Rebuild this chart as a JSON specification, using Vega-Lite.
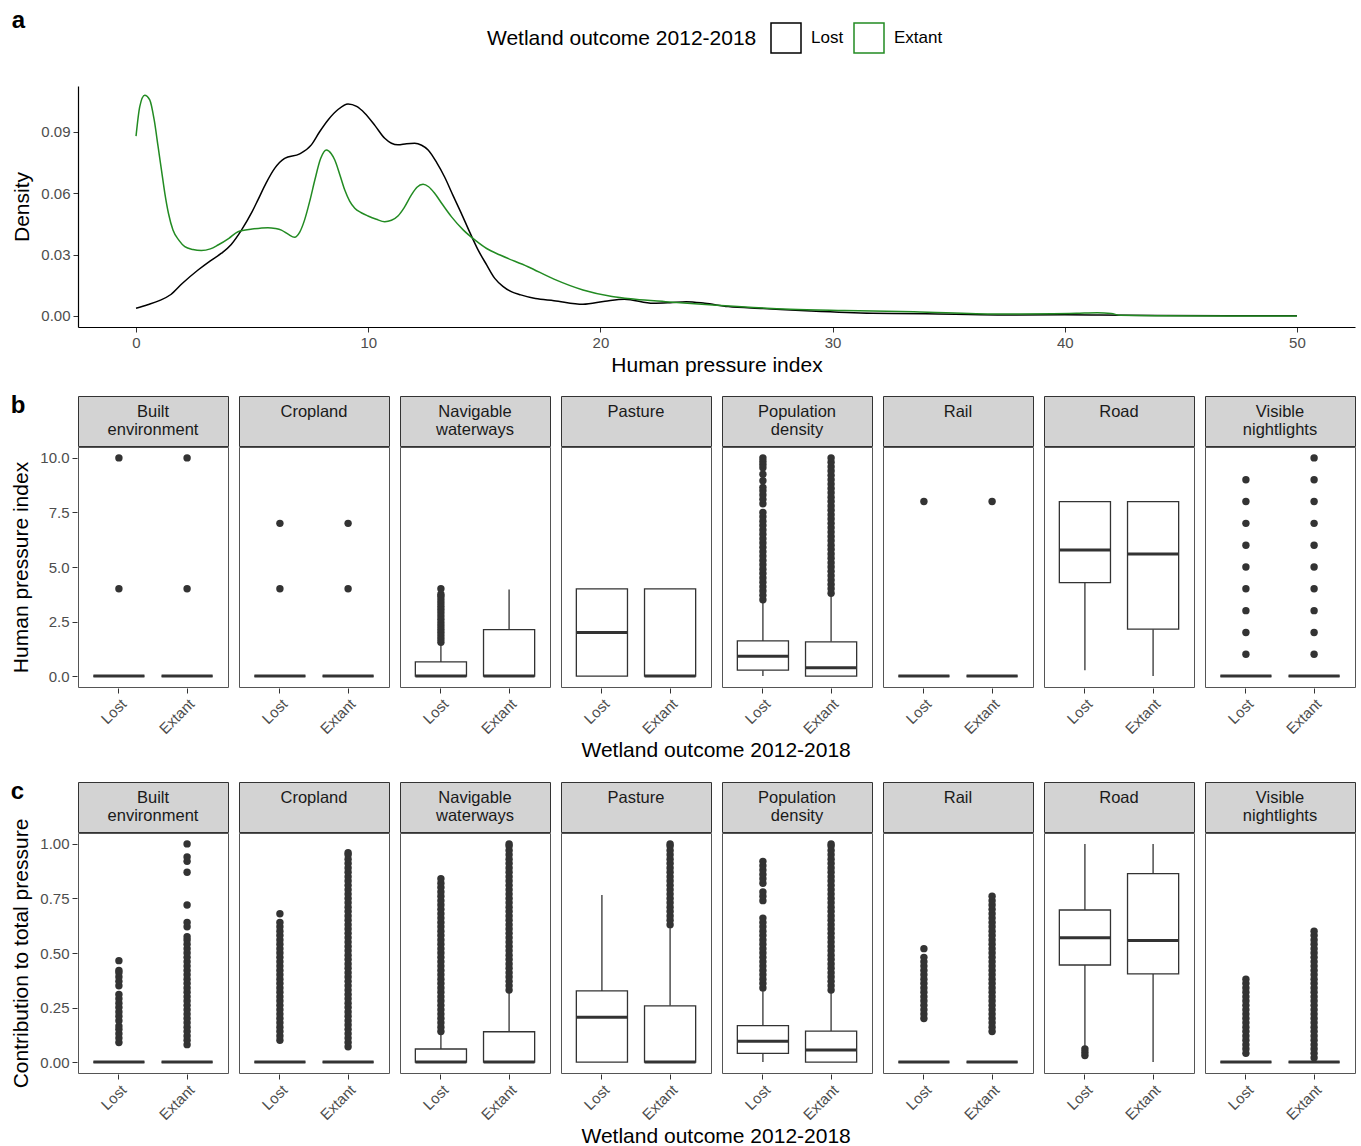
{
"$schema": "https://vega.github.io/schema/vega-lite/v6.json",
"background": "white",
"padding": {"left": 10, "top": 9, "right": 4, "bottom": 0},
"spacing": 18,
"config": {
 "font": "Liberation Sans",
 "view": {"stroke": "#555", "strokeWidth": 1},
 "axis": {"grid": false, "labelFontSize": 15, "labelColor": "#4D4D4D", "titleFontSize": 21, "titleFontWeight": "normal", "titleColor": "black", "tickColor": "#333", "tickSize": 5, "labelPadding": 3, "titlePadding": 8}
},
"datasets": {
 "dens": [
  {"o":"Lost","x":0,"d":0.0038},{"o":"Lost","x":0.5,"d":0.0055},{"o":"Lost","x":1.0,"d":0.0075},{"o":"Lost","x":1.5,"d":0.0105},{"o":"Lost","x":2.0,"d":0.016},{"o":"Lost","x":2.67,"d":0.0225},{"o":"Lost","x":3.2,"d":0.027},{"o":"Lost","x":3.68,"d":0.0307},{"o":"Lost","x":4.1,"d":0.035},{"o":"Lost","x":4.54,"d":0.042},{"o":"Lost","x":5.0,"d":0.051},{"o":"Lost","x":5.25,"d":0.0568},{"o":"Lost","x":5.6,"d":0.065},{"o":"Lost","x":5.97,"d":0.0722},{"o":"Lost","x":6.4,"d":0.0771},{"o":"Lost","x":7.05,"d":0.0793},{"o":"Lost","x":7.55,"d":0.0837},{"o":"Lost","x":7.9,"d":0.09},{"o":"Lost","x":8.27,"d":0.0959},{"o":"Lost","x":8.7,"d":0.101},{"o":"Lost","x":9.13,"d":0.1037},{"o":"Lost","x":9.5,"d":0.1025},{"o":"Lost","x":9.85,"d":0.0992},{"o":"Lost","x":10.3,"d":0.093},{"o":"Lost","x":10.71,"d":0.0869},{"o":"Lost","x":11.0,"d":0.0845},{"o":"Lost","x":11.28,"d":0.0837},{"o":"Lost","x":11.65,"d":0.0843},{"o":"Lost","x":12.0,"d":0.0845},{"o":"Lost","x":12.3,"d":0.0835},{"o":"Lost","x":12.58,"d":0.0812},{"o":"Lost","x":12.95,"d":0.075},{"o":"Lost","x":13.29,"d":0.068},{"o":"Lost","x":13.65,"d":0.059},{"o":"Lost","x":14.01,"d":0.0502},{"o":"Lost","x":14.37,"d":0.041},{"o":"Lost","x":14.73,"d":0.0323},{"o":"Lost","x":15.1,"d":0.025},{"o":"Lost","x":15.45,"d":0.0184},{"o":"Lost","x":15.8,"d":0.0145},{"o":"Lost","x":16.16,"d":0.0119},{"o":"Lost","x":16.57,"d":0.0103},{"o":"Lost","x":17.2,"d":0.0085},{"o":"Lost","x":18.0,"d":0.0075},{"o":"Lost","x":19.25,"d":0.0057},{"o":"Lost","x":20.2,"d":0.0072},{"o":"Lost","x":21.03,"d":0.0082},{"o":"Lost","x":22.28,"d":0.0062},{"o":"Lost","x":23.0,"d":0.0065},{"o":"Lost","x":23.7,"d":0.007},{"o":"Lost","x":24.5,"d":0.0062},{"o":"Lost","x":25.5,"d":0.0046},{"o":"Lost","x":27.0,"d":0.0037},{"o":"Lost","x":29.06,"d":0.0024},{"o":"Lost","x":31.7,"d":0.0013},{"o":"Lost","x":34.0,"d":0.0011},{"o":"Lost","x":37.1,"d":0.0005},{"o":"Lost","x":40.0,"d":0.0006},{"o":"Lost","x":41.5,"d":0.0005},{"o":"Lost","x":44.0,"d":0.0002},{"o":"Lost","x":47.0,"d":0.0001},{"o":"Lost","x":50.0,"d":0.0001},
  {"o":"Extant","x":0,"d":0.088},{"o":"Extant","x":0.16,"d":0.1024},{"o":"Extant","x":0.37,"d":0.108},{"o":"Extant","x":0.59,"d":0.1057},{"o":"Extant","x":0.78,"d":0.096},{"o":"Extant","x":0.95,"d":0.0828},{"o":"Extant","x":1.1,"d":0.071},{"o":"Extant","x":1.24,"d":0.06},{"o":"Extant","x":1.4,"d":0.05},{"o":"Extant","x":1.59,"d":0.042},{"o":"Extant","x":1.85,"d":0.037},{"o":"Extant","x":2.1,"d":0.0339},{"o":"Extant","x":2.45,"d":0.0325},{"o":"Extant","x":2.81,"d":0.032},{"o":"Extant","x":3.2,"d":0.0328},{"o":"Extant","x":3.53,"d":0.0347},{"o":"Extant","x":4.0,"d":0.038},{"o":"Extant","x":4.39,"d":0.0412},{"o":"Extant","x":5.0,"d":0.0425},{"o":"Extant","x":5.68,"d":0.0432},{"o":"Extant","x":6.0,"d":0.0428},{"o":"Extant","x":6.26,"d":0.042},{"o":"Extant","x":6.55,"d":0.04},{"o":"Extant","x":6.83,"d":0.0385},{"o":"Extant","x":7.05,"d":0.041},{"o":"Extant","x":7.26,"d":0.047},{"o":"Extant","x":7.5,"d":0.057},{"o":"Extant","x":7.7,"d":0.0665},{"o":"Extant","x":7.95,"d":0.077},{"o":"Extant","x":8.2,"d":0.0812},{"o":"Extant","x":8.4,"d":0.0795},{"o":"Extant","x":8.56,"d":0.0763},{"o":"Extant","x":8.78,"d":0.069},{"o":"Extant","x":8.99,"d":0.0616},{"o":"Extant","x":9.2,"d":0.0562},{"o":"Extant","x":9.42,"d":0.0527},{"o":"Extant","x":9.7,"d":0.0505},{"o":"Extant","x":9.99,"d":0.0489},{"o":"Extant","x":10.35,"d":0.0473},{"o":"Extant","x":10.71,"d":0.0461},{"o":"Extant","x":11.0,"d":0.0468},{"o":"Extant","x":11.28,"d":0.0489},{"o":"Extant","x":11.55,"d":0.053},{"o":"Extant","x":11.86,"d":0.0592},{"o":"Extant","x":12.1,"d":0.063},{"o":"Extant","x":12.36,"d":0.0644},{"o":"Extant","x":12.6,"d":0.0632},{"o":"Extant","x":12.86,"d":0.06},{"o":"Extant","x":13.2,"d":0.0545},{"o":"Extant","x":13.58,"d":0.0486},{"o":"Extant","x":14.1,"d":0.042},{"o":"Extant","x":14.59,"d":0.0372},{"o":"Extant","x":15.1,"d":0.033},{"o":"Extant","x":15.68,"d":0.0298},{"o":"Extant","x":16.88,"d":0.0241},{"o":"Extant","x":18.0,"d":0.018},{"o":"Extant","x":19.25,"d":0.0127},{"o":"Extant","x":20.5,"d":0.0095},{"o":"Extant","x":21.5,"d":0.0082},{"o":"Extant","x":22.81,"d":0.007},{"o":"Extant","x":25.0,"d":0.0052},{"o":"Extant","x":28.17,"d":0.0033},{"o":"Extant","x":30.5,"d":0.0027},{"o":"Extant","x":33.5,"d":0.0021},{"o":"Extant","x":37.1,"d":0.001},{"o":"Extant","x":39.5,"d":0.0011},{"o":"Extant","x":40.5,"d":0.0013},{"o":"Extant","x":41.4,"d":0.0016},{"o":"Extant","x":42.0,"d":0.0012},{"o":"Extant","x":42.4,"d":0.0003},{"o":"Extant","x":44.0,"d":0.0001},{"o":"Extant","x":47.0,"d":0.0},{"o":"Extant","x":50.0,"d":0.0}
 ],
 "strips": [
  {"p":"BE","label":"Built\nenvironment"},{"p":"CR","label":"Cropland\n"},{"p":"NW","label":"Navigable\nwaterways"},{"p":"PA","label":"Pasture\n"},{"p":"PD","label":"Population\ndensity"},{"p":"RA","label":"Rail\n"},{"p":"RO","label":"Road\n"},{"p":"VN","label":"Visible\nnightlights"}
 ],
 "b": [
  {"p":"BE","o":"Lost","lo":0,"q1":0,"md":0,"q3":0,"hi":0},{"p":"BE","o":"Extant","lo":0,"q1":0,"md":0,"q3":0,"hi":0},
  {"p":"CR","o":"Lost","lo":0,"q1":0,"md":0,"q3":0,"hi":0},{"p":"CR","o":"Extant","lo":0,"q1":0,"md":0,"q3":0,"hi":0},
  {"p":"NW","o":"Lost","lo":0,"q1":0,"md":0,"q3":0.65,"hi":1.5},{"p":"NW","o":"Extant","lo":0,"q1":0,"md":0,"q3":2.13,"hi":3.97},
  {"p":"PA","o":"Lost","lo":0,"q1":0,"md":2,"q3":4,"hi":4},{"p":"PA","o":"Extant","lo":0,"q1":0,"md":0,"q3":4,"hi":4},
  {"p":"PD","o":"Lost","lo":0,"q1":0.27,"md":0.91,"q3":1.61,"hi":3.44},{"p":"PD","o":"Extant","lo":0,"q1":0,"md":0.38,"q3":1.57,"hi":3.74},
  {"p":"RA","o":"Lost","lo":0,"q1":0,"md":0,"q3":0,"hi":0},{"p":"RA","o":"Extant","lo":0,"q1":0,"md":0,"q3":0,"hi":0},
  {"p":"RO","o":"Lost","lo":0.27,"q1":4.28,"md":5.78,"q3":8,"hi":8},{"p":"RO","o":"Extant","lo":0,"q1":2.15,"md":5.6,"q3":8,"hi":8},
  {"p":"VN","o":"Lost","lo":0,"q1":0,"md":0,"q3":0,"hi":0},{"p":"VN","o":"Extant","lo":0,"q1":0,"md":0,"q3":0,"hi":0},
  {"p":"BE","o":"Lost","v":4},{"p":"BE","o":"Lost","v":10},{"p":"BE","o":"Extant","v":4},{"p":"BE","o":"Extant","v":10},
  {"p":"CR","o":"Lost","v":4},{"p":"CR","o":"Lost","v":7},{"p":"CR","o":"Extant","v":4},{"p":"CR","o":"Extant","v":7},
  {"p":"NW","o":"Lost","v":1.55},{"p":"NW","o":"Lost","v":1.7},{"p":"NW","o":"Lost","v":1.85},{"p":"NW","o":"Lost","v":2},{"p":"NW","o":"Lost","v":2.15},{"p":"NW","o":"Lost","v":2.3},{"p":"NW","o":"Lost","v":2.45},{"p":"NW","o":"Lost","v":2.6},{"p":"NW","o":"Lost","v":2.75},{"p":"NW","o":"Lost","v":2.9},{"p":"NW","o":"Lost","v":3.05},{"p":"NW","o":"Lost","v":3.2},{"p":"NW","o":"Lost","v":3.35},{"p":"NW","o":"Lost","v":3.5},{"p":"NW","o":"Lost","v":3.65},{"p":"NW","o":"Lost","v":3.75},{"p":"NW","o":"Lost","v":4},
  {"p":"PD","o":"Lost","v":3.5},{"p":"PD","o":"Lost","v":3.7},{"p":"PD","o":"Lost","v":3.9},{"p":"PD","o":"Lost","v":4.1},{"p":"PD","o":"Lost","v":4.3},{"p":"PD","o":"Lost","v":4.5},{"p":"PD","o":"Lost","v":4.7},{"p":"PD","o":"Lost","v":4.9},{"p":"PD","o":"Lost","v":5.1},{"p":"PD","o":"Lost","v":5.3},{"p":"PD","o":"Lost","v":5.5},{"p":"PD","o":"Lost","v":5.7},{"p":"PD","o":"Lost","v":5.9},{"p":"PD","o":"Lost","v":6.1},{"p":"PD","o":"Lost","v":6.3},{"p":"PD","o":"Lost","v":6.5},{"p":"PD","o":"Lost","v":6.7},{"p":"PD","o":"Lost","v":6.9},{"p":"PD","o":"Lost","v":7.1},{"p":"PD","o":"Lost","v":7.3},{"p":"PD","o":"Lost","v":7.5},{"p":"PD","o":"Lost","v":7.9},{"p":"PD","o":"Lost","v":8.1},{"p":"PD","o":"Lost","v":8.3},{"p":"PD","o":"Lost","v":8.5},{"p":"PD","o":"Lost","v":8.65},{"p":"PD","o":"Lost","v":8.95},{"p":"PD","o":"Lost","v":9.25},{"p":"PD","o":"Lost","v":9.55},{"p":"PD","o":"Lost","v":9.7},{"p":"PD","o":"Lost","v":9.85},{"p":"PD","o":"Lost","v":10},
  {"p":"PD","o":"Extant","v":3.8},{"p":"PD","o":"Extant","v":4},{"p":"PD","o":"Extant","v":4.2},{"p":"PD","o":"Extant","v":4.4},{"p":"PD","o":"Extant","v":4.6},{"p":"PD","o":"Extant","v":4.8},{"p":"PD","o":"Extant","v":5},{"p":"PD","o":"Extant","v":5.2},{"p":"PD","o":"Extant","v":5.4},{"p":"PD","o":"Extant","v":5.6},{"p":"PD","o":"Extant","v":5.8},{"p":"PD","o":"Extant","v":6},{"p":"PD","o":"Extant","v":6.2},{"p":"PD","o":"Extant","v":6.4},{"p":"PD","o":"Extant","v":6.6},{"p":"PD","o":"Extant","v":6.8},{"p":"PD","o":"Extant","v":7},{"p":"PD","o":"Extant","v":7.2},{"p":"PD","o":"Extant","v":7.4},{"p":"PD","o":"Extant","v":7.6},{"p":"PD","o":"Extant","v":7.8},{"p":"PD","o":"Extant","v":8},{"p":"PD","o":"Extant","v":8.2},{"p":"PD","o":"Extant","v":8.4},{"p":"PD","o":"Extant","v":8.6},{"p":"PD","o":"Extant","v":8.8},{"p":"PD","o":"Extant","v":9},{"p":"PD","o":"Extant","v":9.2},{"p":"PD","o":"Extant","v":9.4},{"p":"PD","o":"Extant","v":9.6},{"p":"PD","o":"Extant","v":9.8},{"p":"PD","o":"Extant","v":10},
  {"p":"RA","o":"Lost","v":8},{"p":"RA","o":"Extant","v":8},
  {"p":"VN","o":"Lost","v":1},{"p":"VN","o":"Lost","v":2},{"p":"VN","o":"Lost","v":3},{"p":"VN","o":"Lost","v":4},{"p":"VN","o":"Lost","v":5},{"p":"VN","o":"Lost","v":6},{"p":"VN","o":"Lost","v":7},{"p":"VN","o":"Lost","v":8},{"p":"VN","o":"Lost","v":9},
  {"p":"VN","o":"Extant","v":1},{"p":"VN","o":"Extant","v":2},{"p":"VN","o":"Extant","v":3},{"p":"VN","o":"Extant","v":4},{"p":"VN","o":"Extant","v":5},{"p":"VN","o":"Extant","v":6},{"p":"VN","o":"Extant","v":7},{"p":"VN","o":"Extant","v":8},{"p":"VN","o":"Extant","v":9},{"p":"VN","o":"Extant","v":10}
 ],
 "c": [
  {"p":"BE","o":"Lost","lo":0,"q1":0,"md":0,"q3":0,"hi":0},{"p":"BE","o":"Extant","lo":0,"q1":0,"md":0,"q3":0,"hi":0},
  {"p":"CR","o":"Lost","lo":0,"q1":0,"md":0,"q3":0,"hi":0},{"p":"CR","o":"Extant","lo":0,"q1":0,"md":0,"q3":0,"hi":0},
  {"p":"NW","o":"Lost","lo":0,"q1":0,"md":0,"q3":0.06,"hi":0.13},{"p":"NW","o":"Extant","lo":0,"q1":0,"md":0,"q3":0.139,"hi":0.326},
  {"p":"PA","o":"Lost","lo":0,"q1":0,"md":0.205,"q3":0.326,"hi":0.766},{"p":"PA","o":"Extant","lo":0,"q1":0,"md":0,"q3":0.258,"hi":0.62},
  {"p":"PD","o":"Lost","lo":0,"q1":0.04,"md":0.096,"q3":0.167,"hi":0.33},{"p":"PD","o":"Extant","lo":0,"q1":0,"md":0.055,"q3":0.142,"hi":0.32},
  {"p":"RA","o":"Lost","lo":0,"q1":0,"md":0,"q3":0,"hi":0},{"p":"RA","o":"Extant","lo":0,"q1":0,"md":0,"q3":0,"hi":0},
  {"p":"RO","o":"Lost","lo":0.07,"q1":0.445,"md":0.57,"q3":0.697,"hi":1},{"p":"RO","o":"Extant","lo":0,"q1":0.404,"md":0.557,"q3":0.864,"hi":1},
  {"p":"VN","o":"Lost","lo":0,"q1":0,"md":0,"q3":0,"hi":0},{"p":"VN","o":"Extant","lo":0,"q1":0,"md":0,"q3":0,"hi":0},
  {"p":"BE","o":"Lost","v":0.09},{"p":"BE","o":"Lost","v":0.11},{"p":"BE","o":"Lost","v":0.13},{"p":"BE","o":"Lost","v":0.15},{"p":"BE","o":"Lost","v":0.165},{"p":"BE","o":"Lost","v":0.19},{"p":"BE","o":"Lost","v":0.21},{"p":"BE","o":"Lost","v":0.23},{"p":"BE","o":"Lost","v":0.25},{"p":"BE","o":"Lost","v":0.27},{"p":"BE","o":"Lost","v":0.29},{"p":"BE","o":"Lost","v":0.31},{"p":"BE","o":"Lost","v":0.35},{"p":"BE","o":"Lost","v":0.37},{"p":"BE","o":"Lost","v":0.39},{"p":"BE","o":"Lost","v":0.41},{"p":"BE","o":"Lost","v":0.42},{"p":"BE","o":"Lost","v":0.465},
  {"p":"BE","o":"Extant","v":0.08},{"p":"BE","o":"Extant","v":0.1},{"p":"BE","o":"Extant","v":0.12},{"p":"BE","o":"Extant","v":0.14},{"p":"BE","o":"Extant","v":0.16},{"p":"BE","o":"Extant","v":0.18},{"p":"BE","o":"Extant","v":0.2},{"p":"BE","o":"Extant","v":0.22},{"p":"BE","o":"Extant","v":0.24},{"p":"BE","o":"Extant","v":0.26},{"p":"BE","o":"Extant","v":0.28},{"p":"BE","o":"Extant","v":0.3},{"p":"BE","o":"Extant","v":0.32},{"p":"BE","o":"Extant","v":0.34},{"p":"BE","o":"Extant","v":0.36},{"p":"BE","o":"Extant","v":0.38},{"p":"BE","o":"Extant","v":0.4},{"p":"BE","o":"Extant","v":0.42},{"p":"BE","o":"Extant","v":0.44},{"p":"BE","o":"Extant","v":0.46},{"p":"BE","o":"Extant","v":0.48},{"p":"BE","o":"Extant","v":0.5},{"p":"BE","o":"Extant","v":0.52},{"p":"BE","o":"Extant","v":0.54},{"p":"BE","o":"Extant","v":0.56},{"p":"BE","o":"Extant","v":0.575},{"p":"BE","o":"Extant","v":0.62},{"p":"BE","o":"Extant","v":0.64},{"p":"BE","o":"Extant","v":0.72},{"p":"BE","o":"Extant","v":0.87},{"p":"BE","o":"Extant","v":0.92},{"p":"BE","o":"Extant","v":0.94},{"p":"BE","o":"Extant","v":1},
  {"p":"CR","o":"Lost","v":0.1},{"p":"CR","o":"Lost","v":0.12},{"p":"CR","o":"Lost","v":0.14},{"p":"CR","o":"Lost","v":0.16},{"p":"CR","o":"Lost","v":0.18},{"p":"CR","o":"Lost","v":0.2},{"p":"CR","o":"Lost","v":0.22},{"p":"CR","o":"Lost","v":0.24},{"p":"CR","o":"Lost","v":0.26},{"p":"CR","o":"Lost","v":0.28},{"p":"CR","o":"Lost","v":0.3},{"p":"CR","o":"Lost","v":0.32},{"p":"CR","o":"Lost","v":0.34},{"p":"CR","o":"Lost","v":0.36},{"p":"CR","o":"Lost","v":0.38},{"p":"CR","o":"Lost","v":0.4},{"p":"CR","o":"Lost","v":0.42},{"p":"CR","o":"Lost","v":0.44},{"p":"CR","o":"Lost","v":0.46},{"p":"CR","o":"Lost","v":0.48},{"p":"CR","o":"Lost","v":0.5},{"p":"CR","o":"Lost","v":0.52},{"p":"CR","o":"Lost","v":0.54},{"p":"CR","o":"Lost","v":0.56},{"p":"CR","o":"Lost","v":0.58},{"p":"CR","o":"Lost","v":0.6},{"p":"CR","o":"Lost","v":0.62},{"p":"CR","o":"Lost","v":0.64},{"p":"CR","o":"Lost","v":0.68},
  {"p":"CR","o":"Extant","v":0.07},{"p":"CR","o":"Extant","v":0.09},{"p":"CR","o":"Extant","v":0.11},{"p":"CR","o":"Extant","v":0.13},{"p":"CR","o":"Extant","v":0.15},{"p":"CR","o":"Extant","v":0.17},{"p":"CR","o":"Extant","v":0.19},{"p":"CR","o":"Extant","v":0.21},{"p":"CR","o":"Extant","v":0.23},{"p":"CR","o":"Extant","v":0.25},{"p":"CR","o":"Extant","v":0.27},{"p":"CR","o":"Extant","v":0.29},{"p":"CR","o":"Extant","v":0.31},{"p":"CR","o":"Extant","v":0.33},{"p":"CR","o":"Extant","v":0.35},{"p":"CR","o":"Extant","v":0.37},{"p":"CR","o":"Extant","v":0.39},{"p":"CR","o":"Extant","v":0.41},{"p":"CR","o":"Extant","v":0.43},{"p":"CR","o":"Extant","v":0.45},{"p":"CR","o":"Extant","v":0.47},{"p":"CR","o":"Extant","v":0.49},{"p":"CR","o":"Extant","v":0.51},{"p":"CR","o":"Extant","v":0.53},{"p":"CR","o":"Extant","v":0.55},{"p":"CR","o":"Extant","v":0.57},{"p":"CR","o":"Extant","v":0.59},{"p":"CR","o":"Extant","v":0.61},{"p":"CR","o":"Extant","v":0.63},{"p":"CR","o":"Extant","v":0.65},{"p":"CR","o":"Extant","v":0.67},{"p":"CR","o":"Extant","v":0.69},{"p":"CR","o":"Extant","v":0.71},{"p":"CR","o":"Extant","v":0.73},{"p":"CR","o":"Extant","v":0.75},{"p":"CR","o":"Extant","v":0.77},{"p":"CR","o":"Extant","v":0.79},{"p":"CR","o":"Extant","v":0.81},{"p":"CR","o":"Extant","v":0.83},{"p":"CR","o":"Extant","v":0.85},{"p":"CR","o":"Extant","v":0.87},{"p":"CR","o":"Extant","v":0.89},{"p":"CR","o":"Extant","v":0.91},{"p":"CR","o":"Extant","v":0.93},{"p":"CR","o":"Extant","v":0.95},{"p":"CR","o":"Extant","v":0.96},
  {"p":"NW","o":"Lost","v":0.14},{"p":"NW","o":"Lost","v":0.16},{"p":"NW","o":"Lost","v":0.18},{"p":"NW","o":"Lost","v":0.2},{"p":"NW","o":"Lost","v":0.22},{"p":"NW","o":"Lost","v":0.24},{"p":"NW","o":"Lost","v":0.26},{"p":"NW","o":"Lost","v":0.28},{"p":"NW","o":"Lost","v":0.3},{"p":"NW","o":"Lost","v":0.32},{"p":"NW","o":"Lost","v":0.34},{"p":"NW","o":"Lost","v":0.36},{"p":"NW","o":"Lost","v":0.38},{"p":"NW","o":"Lost","v":0.4},{"p":"NW","o":"Lost","v":0.42},{"p":"NW","o":"Lost","v":0.44},{"p":"NW","o":"Lost","v":0.46},{"p":"NW","o":"Lost","v":0.48},{"p":"NW","o":"Lost","v":0.5},{"p":"NW","o":"Lost","v":0.52},{"p":"NW","o":"Lost","v":0.54},{"p":"NW","o":"Lost","v":0.56},{"p":"NW","o":"Lost","v":0.58},{"p":"NW","o":"Lost","v":0.6},{"p":"NW","o":"Lost","v":0.62},{"p":"NW","o":"Lost","v":0.64},{"p":"NW","o":"Lost","v":0.66},{"p":"NW","o":"Lost","v":0.68},{"p":"NW","o":"Lost","v":0.7},{"p":"NW","o":"Lost","v":0.72},{"p":"NW","o":"Lost","v":0.74},{"p":"NW","o":"Lost","v":0.76},{"p":"NW","o":"Lost","v":0.78},{"p":"NW","o":"Lost","v":0.8},{"p":"NW","o":"Lost","v":0.82},{"p":"NW","o":"Lost","v":0.84},
  {"p":"NW","o":"Extant","v":0.33},{"p":"NW","o":"Extant","v":0.35},{"p":"NW","o":"Extant","v":0.37},{"p":"NW","o":"Extant","v":0.39},{"p":"NW","o":"Extant","v":0.41},{"p":"NW","o":"Extant","v":0.43},{"p":"NW","o":"Extant","v":0.45},{"p":"NW","o":"Extant","v":0.47},{"p":"NW","o":"Extant","v":0.49},{"p":"NW","o":"Extant","v":0.51},{"p":"NW","o":"Extant","v":0.53},{"p":"NW","o":"Extant","v":0.55},{"p":"NW","o":"Extant","v":0.57},{"p":"NW","o":"Extant","v":0.59},{"p":"NW","o":"Extant","v":0.61},{"p":"NW","o":"Extant","v":0.63},{"p":"NW","o":"Extant","v":0.65},{"p":"NW","o":"Extant","v":0.67},{"p":"NW","o":"Extant","v":0.69},{"p":"NW","o":"Extant","v":0.71},{"p":"NW","o":"Extant","v":0.73},{"p":"NW","o":"Extant","v":0.75},{"p":"NW","o":"Extant","v":0.77},{"p":"NW","o":"Extant","v":0.79},{"p":"NW","o":"Extant","v":0.81},{"p":"NW","o":"Extant","v":0.83},{"p":"NW","o":"Extant","v":0.85},{"p":"NW","o":"Extant","v":0.87},{"p":"NW","o":"Extant","v":0.89},{"p":"NW","o":"Extant","v":0.91},{"p":"NW","o":"Extant","v":0.93},{"p":"NW","o":"Extant","v":0.95},{"p":"NW","o":"Extant","v":0.97},{"p":"NW","o":"Extant","v":0.99},{"p":"NW","o":"Extant","v":1},
  {"p":"PA","o":"Extant","v":0.63},{"p":"PA","o":"Extant","v":0.65},{"p":"PA","o":"Extant","v":0.67},{"p":"PA","o":"Extant","v":0.69},{"p":"PA","o":"Extant","v":0.71},{"p":"PA","o":"Extant","v":0.73},{"p":"PA","o":"Extant","v":0.75},{"p":"PA","o":"Extant","v":0.77},{"p":"PA","o":"Extant","v":0.79},{"p":"PA","o":"Extant","v":0.81},{"p":"PA","o":"Extant","v":0.83},{"p":"PA","o":"Extant","v":0.85},{"p":"PA","o":"Extant","v":0.87},{"p":"PA","o":"Extant","v":0.89},{"p":"PA","o":"Extant","v":0.91},{"p":"PA","o":"Extant","v":0.93},{"p":"PA","o":"Extant","v":0.95},{"p":"PA","o":"Extant","v":0.97},{"p":"PA","o":"Extant","v":0.99},{"p":"PA","o":"Extant","v":1},
  {"p":"PD","o":"Lost","v":0.34},{"p":"PD","o":"Lost","v":0.36},{"p":"PD","o":"Lost","v":0.38},{"p":"PD","o":"Lost","v":0.4},{"p":"PD","o":"Lost","v":0.42},{"p":"PD","o":"Lost","v":0.44},{"p":"PD","o":"Lost","v":0.46},{"p":"PD","o":"Lost","v":0.48},{"p":"PD","o":"Lost","v":0.5},{"p":"PD","o":"Lost","v":0.52},{"p":"PD","o":"Lost","v":0.54},{"p":"PD","o":"Lost","v":0.56},{"p":"PD","o":"Lost","v":0.58},{"p":"PD","o":"Lost","v":0.6},{"p":"PD","o":"Lost","v":0.62},{"p":"PD","o":"Lost","v":0.64},{"p":"PD","o":"Lost","v":0.66},{"p":"PD","o":"Lost","v":0.74},{"p":"PD","o":"Lost","v":0.76},{"p":"PD","o":"Lost","v":0.78},{"p":"PD","o":"Lost","v":0.82},{"p":"PD","o":"Lost","v":0.84},{"p":"PD","o":"Lost","v":0.86},{"p":"PD","o":"Lost","v":0.88},{"p":"PD","o":"Lost","v":0.9},{"p":"PD","o":"Lost","v":0.92},
  {"p":"PD","o":"Extant","v":0.33},{"p":"PD","o":"Extant","v":0.35},{"p":"PD","o":"Extant","v":0.37},{"p":"PD","o":"Extant","v":0.39},{"p":"PD","o":"Extant","v":0.41},{"p":"PD","o":"Extant","v":0.43},{"p":"PD","o":"Extant","v":0.45},{"p":"PD","o":"Extant","v":0.47},{"p":"PD","o":"Extant","v":0.49},{"p":"PD","o":"Extant","v":0.51},{"p":"PD","o":"Extant","v":0.53},{"p":"PD","o":"Extant","v":0.55},{"p":"PD","o":"Extant","v":0.57},{"p":"PD","o":"Extant","v":0.59},{"p":"PD","o":"Extant","v":0.61},{"p":"PD","o":"Extant","v":0.63},{"p":"PD","o":"Extant","v":0.65},{"p":"PD","o":"Extant","v":0.67},{"p":"PD","o":"Extant","v":0.69},{"p":"PD","o":"Extant","v":0.71},{"p":"PD","o":"Extant","v":0.73},{"p":"PD","o":"Extant","v":0.75},{"p":"PD","o":"Extant","v":0.77},{"p":"PD","o":"Extant","v":0.79},{"p":"PD","o":"Extant","v":0.81},{"p":"PD","o":"Extant","v":0.83},{"p":"PD","o":"Extant","v":0.85},{"p":"PD","o":"Extant","v":0.87},{"p":"PD","o":"Extant","v":0.89},{"p":"PD","o":"Extant","v":0.91},{"p":"PD","o":"Extant","v":0.93},{"p":"PD","o":"Extant","v":0.95},{"p":"PD","o":"Extant","v":0.97},{"p":"PD","o":"Extant","v":0.99},{"p":"PD","o":"Extant","v":1},
  {"p":"RA","o":"Lost","v":0.2},{"p":"RA","o":"Lost","v":0.22},{"p":"RA","o":"Lost","v":0.24},{"p":"RA","o":"Lost","v":0.26},{"p":"RA","o":"Lost","v":0.28},{"p":"RA","o":"Lost","v":0.3},{"p":"RA","o":"Lost","v":0.32},{"p":"RA","o":"Lost","v":0.34},{"p":"RA","o":"Lost","v":0.36},{"p":"RA","o":"Lost","v":0.38},{"p":"RA","o":"Lost","v":0.4},{"p":"RA","o":"Lost","v":0.42},{"p":"RA","o":"Lost","v":0.44},{"p":"RA","o":"Lost","v":0.46},{"p":"RA","o":"Lost","v":0.48},{"p":"RA","o":"Lost","v":0.52},
  {"p":"RA","o":"Extant","v":0.14},{"p":"RA","o":"Extant","v":0.16},{"p":"RA","o":"Extant","v":0.18},{"p":"RA","o":"Extant","v":0.2},{"p":"RA","o":"Extant","v":0.22},{"p":"RA","o":"Extant","v":0.24},{"p":"RA","o":"Extant","v":0.26},{"p":"RA","o":"Extant","v":0.28},{"p":"RA","o":"Extant","v":0.3},{"p":"RA","o":"Extant","v":0.32},{"p":"RA","o":"Extant","v":0.34},{"p":"RA","o":"Extant","v":0.36},{"p":"RA","o":"Extant","v":0.38},{"p":"RA","o":"Extant","v":0.4},{"p":"RA","o":"Extant","v":0.42},{"p":"RA","o":"Extant","v":0.44},{"p":"RA","o":"Extant","v":0.46},{"p":"RA","o":"Extant","v":0.48},{"p":"RA","o":"Extant","v":0.5},{"p":"RA","o":"Extant","v":0.52},{"p":"RA","o":"Extant","v":0.54},{"p":"RA","o":"Extant","v":0.56},{"p":"RA","o":"Extant","v":0.58},{"p":"RA","o":"Extant","v":0.6},{"p":"RA","o":"Extant","v":0.62},{"p":"RA","o":"Extant","v":0.64},{"p":"RA","o":"Extant","v":0.66},{"p":"RA","o":"Extant","v":0.68},{"p":"RA","o":"Extant","v":0.7},{"p":"RA","o":"Extant","v":0.72},{"p":"RA","o":"Extant","v":0.74},{"p":"RA","o":"Extant","v":0.76},
  {"p":"RO","o":"Lost","v":0.03},{"p":"RO","o":"Lost","v":0.045},{"p":"RO","o":"Lost","v":0.06},
  {"p":"VN","o":"Lost","v":0.04},{"p":"VN","o":"Lost","v":0.06},{"p":"VN","o":"Lost","v":0.08},{"p":"VN","o":"Lost","v":0.1},{"p":"VN","o":"Lost","v":0.12},{"p":"VN","o":"Lost","v":0.14},{"p":"VN","o":"Lost","v":0.16},{"p":"VN","o":"Lost","v":0.18},{"p":"VN","o":"Lost","v":0.2},{"p":"VN","o":"Lost","v":0.22},{"p":"VN","o":"Lost","v":0.24},{"p":"VN","o":"Lost","v":0.26},{"p":"VN","o":"Lost","v":0.28},{"p":"VN","o":"Lost","v":0.3},{"p":"VN","o":"Lost","v":0.32},{"p":"VN","o":"Lost","v":0.34},{"p":"VN","o":"Lost","v":0.36},{"p":"VN","o":"Lost","v":0.38},
  {"p":"VN","o":"Extant","v":0.02},{"p":"VN","o":"Extant","v":0.04},{"p":"VN","o":"Extant","v":0.06},{"p":"VN","o":"Extant","v":0.08},{"p":"VN","o":"Extant","v":0.1},{"p":"VN","o":"Extant","v":0.12},{"p":"VN","o":"Extant","v":0.14},{"p":"VN","o":"Extant","v":0.16},{"p":"VN","o":"Extant","v":0.18},{"p":"VN","o":"Extant","v":0.2},{"p":"VN","o":"Extant","v":0.22},{"p":"VN","o":"Extant","v":0.24},{"p":"VN","o":"Extant","v":0.26},{"p":"VN","o":"Extant","v":0.28},{"p":"VN","o":"Extant","v":0.3},{"p":"VN","o":"Extant","v":0.32},{"p":"VN","o":"Extant","v":0.34},{"p":"VN","o":"Extant","v":0.36},{"p":"VN","o":"Extant","v":0.38},{"p":"VN","o":"Extant","v":0.4},{"p":"VN","o":"Extant","v":0.42},{"p":"VN","o":"Extant","v":0.44},{"p":"VN","o":"Extant","v":0.46},{"p":"VN","o":"Extant","v":0.48},{"p":"VN","o":"Extant","v":0.5},{"p":"VN","o":"Extant","v":0.52},{"p":"VN","o":"Extant","v":0.54},{"p":"VN","o":"Extant","v":0.56},{"p":"VN","o":"Extant","v":0.58},{"p":"VN","o":"Extant","v":0.6}
 ]
},
"vconcat": [
 {
  "title": {"text": "a", "anchor": "start", "frame": "bounds", "fontSize": 24, "fontWeight": "bold", "color": "black", "offset": 0, "dy": -53},
  "data": {"name": "dens"},
  "width": 1277, "height": 241,
  "view": {"stroke": null},
  "mark": {"type": "line", "strokeWidth": 1.5, "interpolate": "monotone"},
  "encoding": {
   "x": {"field": "x", "type": "quantitative", "scale": {"domain": [-2.5, 52.5], "nice": false, "zero": false}, "axis": {"values": [0, 10, 20, 30, 40, 50], "title": "Human pressure index", "domainColor": "black", "domainWidth": 1.2, "titlePadding": 4}},
   "y": {"field": "d", "type": "quantitative", "scale": {"domain": [-0.0054, 0.1125], "nice": false, "zero": false}, "axis": {"values": [0, 0.03, 0.06, 0.09], "format": ".2f", "title": "Density", "domainColor": "black", "domainWidth": 1.2}},
   "color": {"field": "o", "type": "nominal", "scale": {"domain": ["Lost", "Extant"], "range": ["black", "#228B22"]}, "legend": {"orient": "none", "legendX": 409, "legendY": -64, "direction": "horizontal", "title": "Wetland outcome 2012-2018", "titleLimit": 500, "titleOrient": "left", "titleFontSize": 21, "titleFontWeight": "normal", "titleColor": "black", "titlePadding": 13, "labelFontSize": 17, "labelColor": "black", "labelOffset": 9, "columnPadding": 7, "symbolType": "square", "symbolSize": 900, "symbolStrokeWidth": 1.5, "symbolFillColor": "white"}}
  }
 },
 {
  "title": {"text": "b", "anchor": "start", "frame": "bounds", "fontSize": 24, "fontWeight": "bold", "color": "black", "offset": 0, "dy": 22},
  "spacing": -2,
  "vconcat": [
   {
    "data": {"name": "strips"},
    "facet": {"column": {"field": "p", "type": "nominal", "header": {"labels": false, "title": null}}},
    "spacing": 9,
    "spec": {
     "width": 150, "height": 50,
     "view": {"fill": "#D3D3D3", "stroke": "#333"},
     "mark": {"type": "text", "fontSize": 16.5, "color": "#1A1A1A", "lineBreak": "\n", "lineHeight": 18, "baseline": "middle", "dy": -9},
     "encoding": {"text": {"field": "label"}}
    }
   },
   {
    "data": {"name": "b"},
    "title": {"text": "Wetland outcome 2012-2018", "orient": "bottom", "anchor": "middle", "dx": 33, "fontSize": 21, "fontWeight": "normal", "color": "black", "offset": 3},
    "facet": {"column": {"field": "p", "type": "nominal", "header": {"labels": false, "title": null}}},
    "spacing": 9,
    "spec": {
     "width": 150, "height": 240,
     "encoding": {"x": {"field": "o", "type": "nominal", "sort": ["Lost", "Extant"], "scale": {"paddingInner": 0.25, "paddingOuter": 0.225}, "axis": {"title": null, "labelAngle": -45, "domain": false}}},
     "layer": [
      {"transform": [{"filter": "isValid(datum.md)"}], "mark": {"type": "rule", "color": "#333", "strokeWidth": 1.3}, "encoding": {"y": {"field": "lo", "type": "quantitative", "title": "Human pressure index", "scale": {"domain": [-0.5, 10.5], "nice": false, "zero": false}, "axis": {"values": [0, 2.5, 5, 7.5, 10], "format": ".1f", "domain": false}}, "y2": {"field": "q1"}}},
      {"transform": [{"filter": "isValid(datum.md)"}], "mark": {"type": "rule", "color": "#333", "strokeWidth": 1.3}, "encoding": {"y": {"field": "q3", "type": "quantitative", "title": "Human pressure index", "scale": {"domain": [-0.5, 10.5], "nice": false, "zero": false}}, "y2": {"field": "hi"}}},
      {"transform": [{"filter": "isValid(datum.md)"}], "mark": {"type": "bar", "fill": "white", "stroke": "#333", "strokeWidth": 1.3}, "encoding": {"y": {"field": "q1", "type": "quantitative", "title": "Human pressure index", "scale": {"domain": [-0.5, 10.5], "nice": false, "zero": false}}, "y2": {"field": "q3"}}},
      {"transform": [{"filter": "isValid(datum.md)"}], "mark": {"type": "tick", "color": "#333", "thickness": 3, "size": 51, "opacity": 1}, "encoding": {"y": {"field": "md", "type": "quantitative", "title": "Human pressure index", "scale": {"domain": [-0.5, 10.5], "nice": false, "zero": false}}}},
      {"transform": [{"filter": "isValid(datum.v)"}], "mark": {"type": "point", "filled": true, "color": "#333", "size": 55, "opacity": 1}, "encoding": {"y": {"field": "v", "type": "quantitative", "title": "Human pressure index", "scale": {"domain": [-0.5, 10.5], "nice": false, "zero": false}}}}
     ]
    }
   }
  ]
 },
 {
  "title": {"text": "c", "anchor": "start", "frame": "bounds", "fontSize": 24, "fontWeight": "bold", "color": "black", "offset": 0, "dy": 22},
  "spacing": -17,
  "vconcat": [
   {
    "data": {"name": "strips"},
    "facet": {"column": {"field": "p", "type": "nominal", "header": {"labels": false, "title": null}}},
    "spacing": 9,
    "spec": {
     "width": 150, "height": 50,
     "view": {"fill": "#D3D3D3", "stroke": "#333"},
     "mark": {"type": "text", "fontSize": 16.5, "color": "#1A1A1A", "lineBreak": "\n", "lineHeight": 18, "baseline": "middle", "dy": -9},
     "encoding": {"text": {"field": "label"}}
    }
   },
   {
    "data": {"name": "c"},
    "title": {"text": "Wetland outcome 2012-2018", "orient": "bottom", "anchor": "middle", "dx": 33, "fontSize": 21, "fontWeight": "normal", "color": "black", "offset": 3},
    "facet": {"column": {"field": "p", "type": "nominal", "header": {"labels": false, "title": null}}},
    "spacing": 9,
    "spec": {
     "width": 150, "height": 240,
     "encoding": {"x": {"field": "o", "type": "nominal", "sort": ["Lost", "Extant"], "scale": {"paddingInner": 0.25, "paddingOuter": 0.225}, "axis": {"title": null, "labelAngle": -45, "domain": false}}},
     "layer": [
      {"transform": [{"filter": "isValid(datum.md)"}], "mark": {"type": "rule", "color": "#333", "strokeWidth": 1.3}, "encoding": {"y": {"field": "lo", "type": "quantitative", "title": "Contribution to total pressure", "scale": {"domain": [-0.05, 1.05], "nice": false, "zero": false}, "axis": {"values": [0, 0.25, 0.5, 0.75, 1], "format": ".2f", "domain": false}}, "y2": {"field": "q1"}}},
      {"transform": [{"filter": "isValid(datum.md)"}], "mark": {"type": "rule", "color": "#333", "strokeWidth": 1.3}, "encoding": {"y": {"field": "q3", "type": "quantitative", "title": "Contribution to total pressure", "scale": {"domain": [-0.05, 1.05], "nice": false, "zero": false}}, "y2": {"field": "hi"}}},
      {"transform": [{"filter": "isValid(datum.md)"}], "mark": {"type": "bar", "fill": "white", "stroke": "#333", "strokeWidth": 1.3}, "encoding": {"y": {"field": "q1", "type": "quantitative", "title": "Contribution to total pressure", "scale": {"domain": [-0.05, 1.05], "nice": false, "zero": false}}, "y2": {"field": "q3"}}},
      {"transform": [{"filter": "isValid(datum.md)"}], "mark": {"type": "tick", "color": "#333", "thickness": 3, "size": 51, "opacity": 1}, "encoding": {"y": {"field": "md", "type": "quantitative", "title": "Contribution to total pressure", "scale": {"domain": [-0.05, 1.05], "nice": false, "zero": false}}}},
      {"transform": [{"filter": "isValid(datum.v)"}], "mark": {"type": "point", "filled": true, "color": "#333", "size": 55, "opacity": 1}, "encoding": {"y": {"field": "v", "type": "quantitative", "title": "Contribution to total pressure", "scale": {"domain": [-0.05, 1.05], "nice": false, "zero": false}}}}
     ]
    }
   }
  ]
 }
]
}
